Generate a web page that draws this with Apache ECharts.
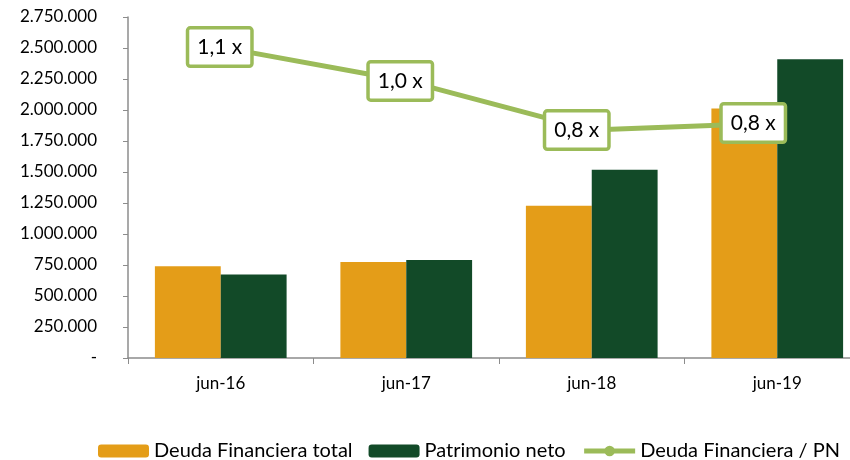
<!DOCTYPE html>
<html>
<head>
<meta charset="utf-8">
<script src="https://cdn.jsdelivr.net/npm/echarts@6/dist/echarts.min.js"></script>
<style>
  html, body { margin: 0; padding: 0; background: #fff; }
  #chart { width: 850px; height: 460px; }
</style>
</head>
<body>
<div id="chart"></div>
<script>
// valores
var categorias = ['jun-16', 'jun-17', 'jun-18', 'jun-19'];
var deudaTotal = [740000, 774000, 1228000, 2013000];
var patrimonio = [674000, 790000, 1518000, 2410000];
var ratio = [1.094, 0.975, 0.802, 0.827];
var yTicks = [0, 250000, 500000, 750000, 1000000, 1250000, 1500000, 1750000, 2000000, 2250000, 2500000, 2750000];
// desplazamiento de las etiquetas del ratio
var offsets = [[-1, 0], [-6, 0], [-15, 0], [-24, 0]];

var fuente = 'Lato';

function miles(v) {
    if (v === 0) return '-';
    return String(v).replace(/\B(?=(\d{3})+(?!\d))/g, '.');
}

var myChart = echarts.init(document.getElementById('chart'));

var option = {
    animation: false,
    // el area del grafico sigue mas alla del borde derecho
    grid: { left: 128, width: 742, top: 17, height: 341, outerBoundsMode: 'none' },
    legend: {
        top: 441,
        left: 98,
        padding: 0,
        itemWidth: 51,
        itemHeight: 13,
        itemGap: 16,
        textStyle: { fontFamily: fuente, fontSize: 20, color: '#000' },
        data: [
            'Deuda Financiera total',
            'Patrimonio neto',
            { name: 'Deuda Financiera / PN', lineStyle: { width: 5 }, itemStyle: { borderWidth: 0 } }
        ]
    },
    xAxis: {
        type: 'category',
        data: categorias,
        axisLine: { lineStyle: { color: '#8c8c8c', width: 1.5 } },
        axisTick: { show: true, length: 6, lineStyle: { color: '#8c8c8c' } },
        axisLabel: { fontFamily: fuente, fontSize: 17, color: '#000', margin: 17 }
    },
    yAxis: [{
        type: 'value',
        min: 0,
        max: yTicks[yTicks.length - 1],
        interval: yTicks[1] - yTicks[0],
        splitLine: { show: false },
        axisLine: { show: true, lineStyle: { color: '#8c8c8c', width: 1.5 } },
        axisTick: { show: true, length: 5, lineStyle: { color: '#8c8c8c' } },
        axisLabel: {
            fontFamily: fuente, fontSize: 17, color: '#000', margin: 31,
            formatter: miles
        }
    }, {
        type: 'value',
        min: 0,
        max: 1.2,
        show: false,
        splitLine: { show: false }
    }],
    series: [{
        name: 'Deuda Financiera total',
        type: 'bar',
        data: deudaTotal,
        barGap: '0%',
        barCategoryGap: '29%',
        itemStyle: { color: '#E49D18' }
    }, {
        name: 'Patrimonio neto',
        type: 'bar',
        data: patrimonio,
        itemStyle: { color: '#124A28' }
    }, {
        name: 'Deuda Financiera / PN',
        type: 'line',
        yAxisIndex: 1,
        data: ratio.map(function (v, i) {
            return { value: v, label: { offset: offsets[i] } };
        }),
        symbol: 'circle',
        symbolSize: 14,
        lineStyle: { color: '#9BBB59', width: 5 },
        itemStyle: { color: '#9BBB59' },
        z: 5,
        label: {
            show: true,
            position: 'inside',
            fontFamily: fuente,
            fontSize: 21,
            color: '#000',
            backgroundColor: '#fff',
            borderColor: '#9BBB59',
            borderWidth: 3.5,
            borderRadius: 1,
            padding: [8, 8, 6, 8],
            formatter: function (p) {
                return p.value.toFixed(1).replace('.', ',') + ' x';
            }
        }
    }]
};

myChart.setOption(option);
</script>
</body>
</html>
